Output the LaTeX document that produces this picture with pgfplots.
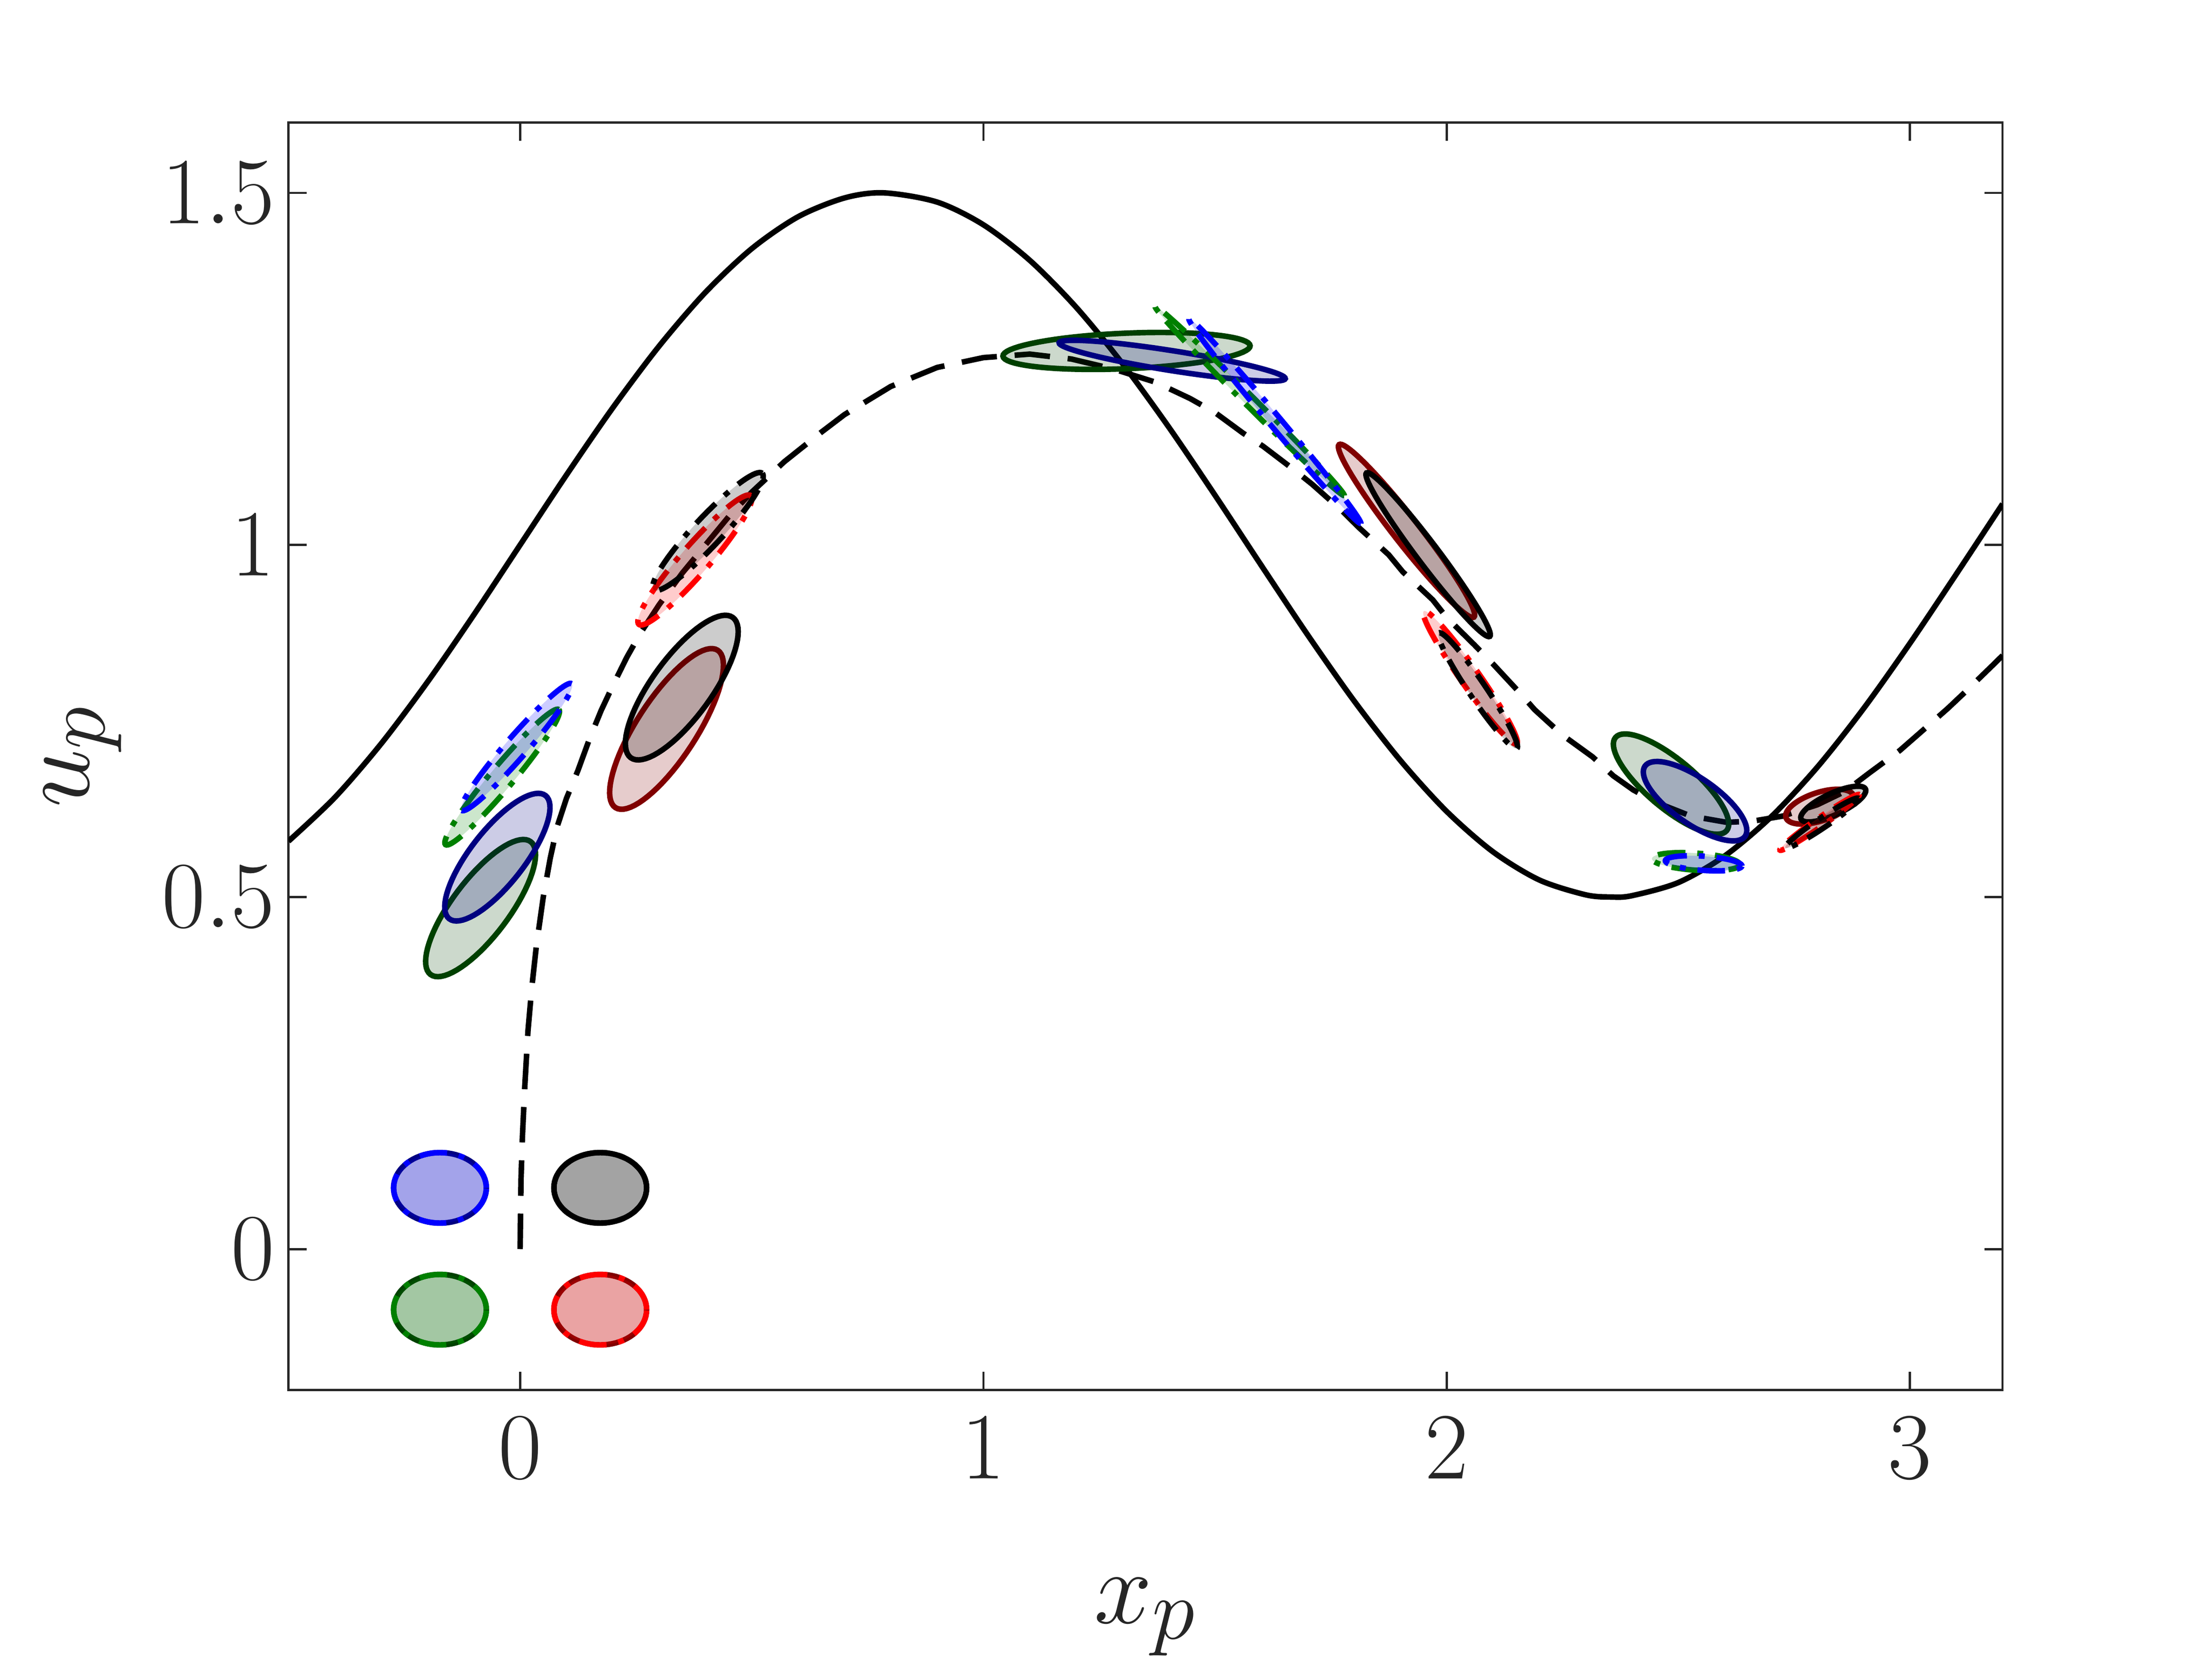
\documentclass[border=0pt]{standalone}
\usepackage{graphicx}
\usepackage{pgfplots}
\pgfplotsset{compat=1.18}
\definecolor{axgray}{RGB}{38,38,38}
\definecolor{navy}{rgb}{0,0,0.5}
\definecolor{dkgreen}{rgb}{0,0.25,0}
\definecolor{mgreen}{rgb}{0,0.5,0}
\definecolor{dkred}{rgb}{0.5,0,0}
\tikzset{dashdotm/.style={dash pattern=on 7pt off 3pt on 1.5pt off 3pt}}
% ellipse: centre x, centre y, semi-axes a, b (in figure px), angle (deg), style
\newcommand{\myell}[6]{%
  \addplot[#6, domain=0:360, samples=73, variable=\t, line width=1.4pt, fill opacity=0.2]
    ({#1 + (#3*cos(\t)*cos(#5) - #4*sin(\t)*sin(#5))/325.8},
     {#2 + (#3*cos(\t)*sin(#5) + #4*sin(\t)*cos(#5))/495.3}) -- cycle;
}
\begin{document}
\begin{tikzpicture}
\begin{axis}[
  scale only axis, width=434pt, height=320.9pt,
  xmin=-0.5, xmax=3.2, ymin=-0.2, ymax=1.6,
  xtick={0,1,2,3}, ytick={0,0.5,1,1.5},
  tick align=inside, major tick length=4.6pt,
  axis line style={axgray, line width=0.55pt},
  major tick style={axgray, line width=0.55pt},
  tick label style={font=\Huge, text=axgray},
  xticklabel={\scalebox{0.9646}{$\pgfmathprintnumber{\tick}$}},
  yticklabel={\scalebox{0.9646}{$\pgfmathprintnumber{\tick}$}},
  xticklabel style={yshift=-3.5pt},
  xlabel={\scalebox{1.061}{$x_p$}}, ylabel={\scalebox{1.061}{$u_p$}},
  every axis x label/.style={at={(axis description cs:0.5,-0.1839)}, anchor=base, font=\Huge, text=axgray},
  every axis y label/.style={at={(axis description cs:-0.1164,0.5)}, anchor=base, rotate=90, font=\Huge, text=axgray},
]
\coordinate (ll) at (rel axis cs:0,0);
\coordinate (ur) at (rel axis cs:1,1);
% fluid velocity
\addplot[black, line width=1.4pt, smooth] coordinates {
(-0.5,0.57926) (-0.4,0.64132) (-0.3,0.71768) (-0.2,0.80529) (-0.1,0.90067)
(0,1) (0.1,1.09933) (0.2,1.19471) (0.3,1.28232) (0.4,1.35868) (0.5,1.42074)
(0.6,1.46602) (0.7,1.49272) (0.785,1.5) (0.9,1.48692) (1.0,1.45465) (1.1,1.40425)
(1.2,1.33773) (1.3,1.25775) (1.4,1.16749) (1.5,1.07056) (1.6,0.97081) (1.7,0.87223)
(1.8,0.77874) (1.9,0.69407) (2.0,0.62160) (2.1,0.56421) (2.2,0.52420) (2.3,0.50316)
(2.356,0.5) (2.4,0.50192) (2.5,0.52054) (2.6,0.55827) (2.7,0.61362) (2.8,0.68436)
(2.9,0.76770) (3.0,0.86029) (3.1,0.95845) (3.2,1.05828)
};
% particle trajectory
\addplot[black, line width=1.4pt, dash pattern=on 9pt off 4.5pt] coordinates {
(0,0) (0.002,0.1) (0.005,0.16) (0.01,0.23) (0.017,0.31) (0.025,0.37) (0.035,0.43)
(0.05,0.50) (0.065,0.555) (0.08,0.60) (0.1,0.64) (0.125,0.68) (0.15,0.725)
(0.175,0.765) (0.2,0.80) (0.23,0.84) (0.26,0.875) (0.3,0.915) (0.35,0.96)
(0.4,1.0) (0.45,1.04) (0.5,1.075) (0.57,1.118) (0.65,1.16) (0.7,1.185) (0.8,1.225)
(0.9,1.252) (1.0,1.266) (1.1,1.271) (1.19,1.264) (1.28,1.25) (1.372,1.231)
(1.446,1.208) (1.5,1.188) (1.56,1.159) (1.604,1.14) (1.672,1.106) (1.71,1.086)
(1.775,1.048) (1.81,1.025) (1.875,0.986) (1.905,0.962) (1.97,0.922) (2.0,0.897)
(2.06,0.858) (2.1,0.831) (2.155,0.792) (2.19,0.766) (2.25,0.73) (2.315,0.699)
(2.36,0.672) (2.403,0.652) (2.45,0.635) (2.527,0.615) (2.605,0.606) (2.663,0.608)
(2.726,0.615) (2.8,0.631) (2.86,0.65) (2.912,0.676) (2.978,0.708) (3.018,0.731)
(3.082,0.768) (3.119,0.791) (3.18,0.83) (3.2,0.843)
};
% initial ellipses
\myell{-0.173}{0.087}{32.6}{24.8}{0}{draw=navy, fill=navy}
\myell{-0.173}{0.087}{32.6}{24.8}{0}{draw=blue, fill=blue, dashdotm}
\myell{0.173}{0.087}{32.6}{24.8}{0}{draw=black, fill=black}
\myell{0.173}{0.087}{32.6}{24.8}{0}{draw=black, fill=black, dashdotm}
\myell{-0.173}{-0.086}{32.6}{24.8}{0}{draw=dkgreen, fill=dkgreen}
\myell{-0.173}{-0.086}{32.6}{24.8}{0}{draw=mgreen, fill=mgreen, dashdotm}
\myell{0.173}{-0.086}{32.6}{24.8}{0}{draw=dkred, fill=dkred}
\myell{0.173}{-0.086}{32.6}{24.8}{0}{draw=red, fill=red, dashdotm}
% snapshot 1
\myell{-0.0853}{0.4843}{58.5}{20}{53}{draw=dkgreen, fill=dkgreen}
\myell{-0.0491}{0.5566}{55}{19}{52}{draw=navy, fill=navy}
\myell{-0.0387}{0.6703}{62}{8}{50}{draw=mgreen, fill=mgreen, dashdotm}
\myell{-0.0074}{0.713}{59}{7.5}{49}{draw=blue, fill=blue, dashdotm}
\myell{0.3161}{0.7387}{66}{21}{57}{draw=dkred, fill=dkred}
\myell{0.349}{0.7974}{61}{21}{54}{draw=black, fill=black}
\myell{0.3772}{0.9786}{60}{10}{49}{draw=red, fill=red, dashdotm}
\myell{0.4055}{1.019}{56}{10}{47}{draw=black, fill=black, dashdotm}
% snapshot 2
\myell{1.309}{1.2755}{87}{12.5}{2.4}{draw=dkgreen, fill=dkgreen}
\myell{1.4076}{1.2616}{80.5}{7}{-9}{draw=navy, fill=navy}
\myell{1.5749}{1.2043}{94}{3.5}{-45}{draw=mgreen, fill=mgreen, dashdotm}
\myell{1.6292}{1.1758}{94}{4}{-50}{draw=blue, fill=blue, dashdotm}
\myell{1.9134}{1.02}{77}{9}{-52}{draw=dkred, fill=dkred}
\myell{1.96}{0.9862}{72}{7.5}{-53}{draw=black, fill=black}
\myell{2.051}{0.8116}{57}{6.5}{-55}{draw=red, fill=red, dashdotm}
\myell{2.0675}{0.793}{49}{6}{-56}{draw=black, fill=black, dashdotm}
% snapshot 3
\myell{2.4844}{0.6604}{51}{17}{-40}{draw=dkgreen, fill=dkgreen}
\myell{2.5362}{0.6361}{43}{16}{-35}{draw=navy, fill=navy}
\myell{2.538}{0.5502}{31}{6}{-4}{draw=mgreen, fill=mgreen, dashdotm}
\myell{2.5547}{0.5479}{27}{5}{-4}{draw=blue, fill=blue, dashdotm}
\myell{2.8054}{0.6283}{25}{10}{18}{draw=dkred, fill=dkred}
\myell{2.8345}{0.632}{25}{7.5}{25}{draw=black, fill=black}
\myell{2.805}{0.606}{34}{3}{35}{draw=red, fill=red, dashdotm}
\myell{2.81}{0.605}{31}{3.5}{34}{draw=black, fill=black, dashdotm}
\end{axis}
\pgfresetboundingbox
\path[use as bounding box] ([xshift=-73.04pt,yshift=-68.08pt]ll) rectangle ([xshift=53.03pt,yshift=31.0pt]ur);
\end{tikzpicture}
\end{document}
